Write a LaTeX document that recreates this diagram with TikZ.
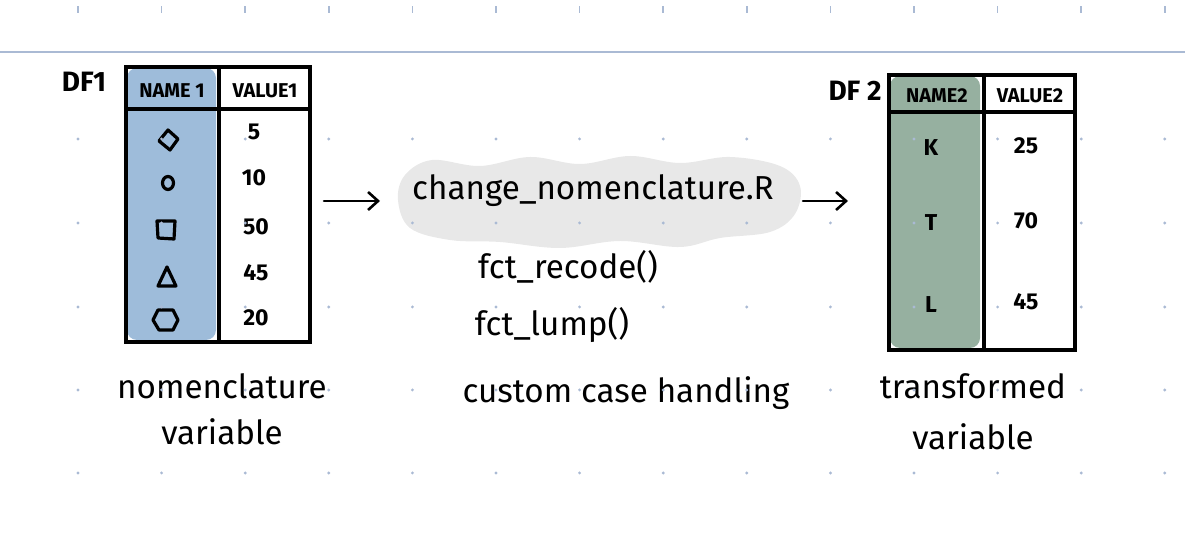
\documentclass[tikz,border=0pt]{standalone}
\usepackage{fontspec}
\setmainfont{Fira Sans}
\usetikzlibrary{arrows.meta}

\definecolor{nameblue}{RGB}{158,188,218}
\definecolor{namegreen}{RGB}{150,176,160}
\definecolor{blobgray}{RGB}{232,232,232}
\definecolor{griddot}{RGB}{170,186,212}

\tikzset{
	hand/.style={font=\fontsize{16.6}{19}\selectfont},
	head/.style={font=\fontsize{10}{11}\selectfont\bfseries},
	val/.style={font=\fontsize{11.5}{13}\selectfont\bfseries},
	dflabel/.style={font=\fontsize{14}{16}\selectfont\bfseries},
	sym/.style={line width=1.6pt, line join=round},
	tabline/.style={line width=1.6pt},
	flow/.style={-{Straight Barb[length=5pt, width=9pt]}, line width=1.3pt, line cap=round},
}

\begin{document}
\begin{tikzpicture}[x=0.5pt, y=-0.5pt]
		\useasboundingbox (0,0) rectangle (1185,544);

		% page rule
		\draw [griddot, line width=1pt] (0,52) -- (1185,52);

		% first table (DF1)
		\fill [nameblue, rounded corners=5pt] (127,68) rectangle (216,340);
		\draw [tabline] (126,67) rectangle (310,342);
		\draw [tabline] (219,67) -- (219,342);
		\draw [tabline] (126,109) -- (310,109);
		\node [dflabel] (dfone) at (84,82) {DF1};
		\node [head] (nameone) at (172,91) {NAME 1};
		\node [head] (valueone) at (265,91) {VALUE1};

		% shapes in NAME 1
		\draw [sym, shift={(168,140)}] (0,-10) -- (10,-1) -- (2,10) -- (-9,1) -- cycle;
		\draw [sym] (168,183) ellipse [x radius=5.5, y radius=6.5];
		\draw [sym, shift={(166,230)}] (-9,-9) -- (9,-9) -- (8,9) -- (-8,8) -- cycle;
		\draw [sym, shift={(167,277)}] (0,-10) -- (9,9) -- (-9,9) -- cycle;
		\draw [sym, shift={(165,320)}] (-7,-10) -- (8,-10) -- (13,0) -- (8,10) -- (-6,10) -- (-12,0) -- cycle;

		% values in VALUE1
		\node [val] (vone) at (254,132) {5};
		\node [val] (vtwo) at (254,178) {10};
		\node [val] (vthree) at (256,227) {50};
		\node [val] (vfour) at (256,273) {45};
		\node [val] (vfive) at (256,318) {20};

		% script in the middle
		\fill [blobgray] plot [smooth cycle, tension=0.6] coordinates {
			(405,175) (432,160) (480,166) (530,157) (580,164) (630,156) (680,163)
			(730,157) (780,166) (800,186) (795,214) (770,232) (720,238) (680,247)
			(620,241) (560,248) (500,242) (450,240) (410,228) (398,200)};
		\node [hand] (script) at (593,191) {change\_nomenclature.R};
		\node [hand] (recode) at (568,267) {fct\_recode()};
		\node [hand] (lump) at (552,325) {fct\_lump()};
		\node [hand] (custom) at (626,393) {custom case handling};

		% arrows
		\coordinate (outone) at (324,201);
		\coordinate (inscript) at (380,201);
		\coordinate (outscript) at (803,201);
		\coordinate (intwo) at (848,201);
		\draw [flow] (outone) -- (inscript);
		\draw [flow] (outscript) -- (intwo);

		% second table (DF 2)
		\fill [namegreen, rounded corners=5pt] (890,76) rectangle (980,348);
		\draw [tabline] (889,75) rectangle (1075,350);
		\draw [tabline] (984,75) -- (984,350);
		\draw [tabline] (889,112) -- (1075,112);
		\node [dflabel] (dftwo) at (855,91) {DF 2};
		\node [head] (nametwo) at (937,96) {NAME2};
		\node [head] (valuetwo) at (1030,96) {VALUE2};
		\node [val] (kay) at (931,148) {K};
		\node [val] (tee) at (931,223) {T};
		\node [val] (ell) at (931,305) {L};
		\node [val] (wone) at (1026,146) {25};
		\node [val] (wtwo) at (1026,221) {70};
		\node [val] (wthree) at (1026,302) {45};

		% captions
		\node [hand] (capone) at (222,386) {nomenclature};
		\node [hand] (caponeb) at (222,432) {variable};
		\node [hand] (captwo) at (973,386) {transformed};
		\node [hand] (captwob) at (973,437) {variable};

		% dot grid
		\foreach \i in {0,...,13} {
			\fill [griddot] (78+83.6*\i-0.8,6) rectangle ++(1.6,7);
			\foreach \j in {139,223,307,390,473}
				\fill [griddot] (78+83.6*\i,\j) circle [radius=1.6];
		}
	\end{tikzpicture}
\end{document}
